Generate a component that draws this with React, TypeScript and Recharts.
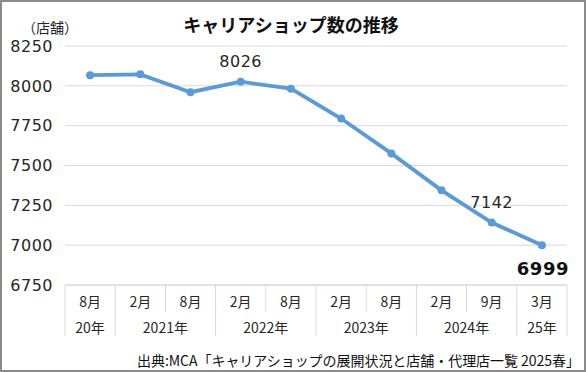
import React from 'react';
import { LineChart, Line, XAxis, YAxis, CartesianGrid, LabelList } from 'recharts';

const months = ['8月', '2月', '8月', '2月', '8月', '2月', '8月', '2月', '9月', '3月'];
const years = ['20年', '2021年', '2021年', '2022年', '2022年', '2023年', '2023年', '2024年', '2024年', '25年'];
const shops = [8067, 8072, 7960, 8026, 7982, 7795, 7576, 7344, 7142, 6999];
const yTicks = [6750, 7000, 7250, 7500, 7750, 8000, 8250];
const labeledAbove = [3, 8];
const labeledBelow = [9];

const title = 'キャリアショップ数の推移';
const unit = '（店舗）';
const source = '出典:MCA「キャリアショップの展開状況と店舗・代理店一覧 2025春」';

const W = 586;
const H = 372;
const MARGIN = { top: 46, right: 19, left: 0, bottom: 35 };
const Y_W = 65;
const MONTH_H = 27;
const YEAR_H = 25;
const BAND = (W - Y_W - MARGIN.right) / months.length;
const PAD = { left: BAND / 2, right: BAND / 2 };

const GRID = '#d9d9d9';
const TEXT = '#262626';
const CJK = "'Noto Sans CJK JP', sans-serif";
const NUM = "'DejaVu Sans', 'Noto Sans CJK JP', sans-serif";
const BLUE = '#5B9BD5';

const data = months.map((m, i) => ({ idx: i, month: m, year: years[i], shops: shops[i] }));

const MonthTick = (props: any) => {
  const { x, y, payload } = props;
  const i = payload.index ?? props.index;
  const left = x - BAND / 2;
  const right = x + BAND / 2;
  return (
    <g>
      <line x1={left} y1={y} x2={left} y2={y + MONTH_H} stroke={GRID} />
      {i === months.length - 1 && <line x1={right} y1={y} x2={right} y2={y + MONTH_H} stroke={GRID} />}
      <text x={x} y={y + 16} textAnchor="middle" dominantBaseline="central" fontSize={14} fontFamily={CJK} fill={TEXT}>
        {payload.value}
      </text>
    </g>
  );
};

const YearTick = (props: any) => {
  const { x, y, payload } = props;
  const i = payload.index ?? props.index;
  const isStart = i === 0 || years[i] !== years[i - 1];
  const left = x - BAND / 2;
  const right = x + BAND / 2;
  if (!isStart) {
    return i === years.length - 1 ? <line x1={right} y1={y} x2={right} y2={y + YEAR_H - 1} stroke={GRID} /> : <g />;
  }
  let n = 1;
  while (i + n < years.length && years[i + n] === years[i]) n++;
  const center = left + (n * BAND) / 2;
  return (
    <g>
      <line x1={left} y1={y} x2={left} y2={y + YEAR_H - 1} stroke={GRID} />
      {i + n - 1 === years.length - 1 && (
        <line x1={left + n * BAND} y1={y} x2={left + n * BAND} y2={y + YEAR_H - 1} stroke={GRID} />
      )}
      <text x={center} y={y + 15} textAnchor="middle" dominantBaseline="central" fontSize={14} fontFamily={CJK} fill={TEXT}>
        {payload.value}
      </text>
    </g>
  );
};

const renderLabel = (props: any) => {
  const { x, y, value, index } = props;
  if (labeledBelow.includes(index)) {
    return (
      <text x={x + 1} y={y + 23} textAnchor="middle" dominantBaseline="central" fontSize={18} fontWeight="bold" fontFamily={NUM} fill="#111" letterSpacing={0.5}>
        {value}
      </text>
    );
  }
  if (labeledAbove.includes(index)) {
    return (
      <text x={x} y={y - 20} textAnchor="middle" dominantBaseline="central" fontSize={16} fontFamily={NUM} fill={TEXT} letterSpacing={0.5}>
        {value}
      </text>
    );
  }
  return null;
};

export default function App() {
  return (
    <div style={{ position: 'absolute', left: 0, top: 0, width: W, height: H, background: '#fff', overflow: 'hidden' }}>
      <LineChart width={W} height={H} data={data} margin={MARGIN}>
        <CartesianGrid vertical={false} stroke={GRID} />
        <XAxis
          dataKey="month"
          padding={PAD}
          interval={0}
          height={MONTH_H}
          tickSize={0}
          tickMargin={0}
          tickLine={false}
          axisLine={{ stroke: GRID }}
          tick={<MonthTick />}
        />
        <XAxis
          xAxisId="yr"
          dataKey="year"
          padding={PAD}
          interval={0}
          height={YEAR_H}
          tickSize={0}
          tickMargin={0}
          tickLine={false}
          axisLine={false}
          tick={<YearTick />}
        />
        <YAxis
          width={Y_W}
          domain={[6750, 8250]}
          ticks={yTicks}
          interval={0}
          tickSize={0}
          tickMargin={12}
          tickLine={false}
          axisLine={false}
          tick={{ fill: TEXT, fontSize: 16, fontFamily: NUM, letterSpacing: 0.5 }}
        />
        <Line
          dataKey="shops"
          stroke={BLUE}
          strokeWidth={3.8}
          dot={{ r: 4, fill: BLUE, stroke: BLUE, strokeWidth: 0 }}
          activeDot={false}
          isAnimationActive={false}
        >
          <LabelList dataKey="shops" content={renderLabel} />
        </Line>
      </LineChart>
      <svg width={W} height={H} style={{ position: 'absolute', left: 0, top: 0, pointerEvents: 'none' }}>
        <text x={291} y={24} textAnchor="middle" dominantBaseline="central" fontSize={18} fontWeight="bold" fontFamily={CJK} fill="#111">
          {title}
        </text>
        <text x={50} y={27} textAnchor="middle" dominantBaseline="central" fontSize={14} fontFamily={CJK} fill={TEXT}>
          {unit}
        </text>
        <text x={137} y={360} textAnchor="start" dominantBaseline="central" fontSize={14} fontFamily={CJK} fill="#111" textLength={443} lengthAdjust="spacing">
          {source}
        </text>
        <rect x={1} y={1} width={W - 2} height={H - 2} fill="none" stroke="#8a8a8a" strokeWidth={2} />
      </svg>
    </div>
  );
}
